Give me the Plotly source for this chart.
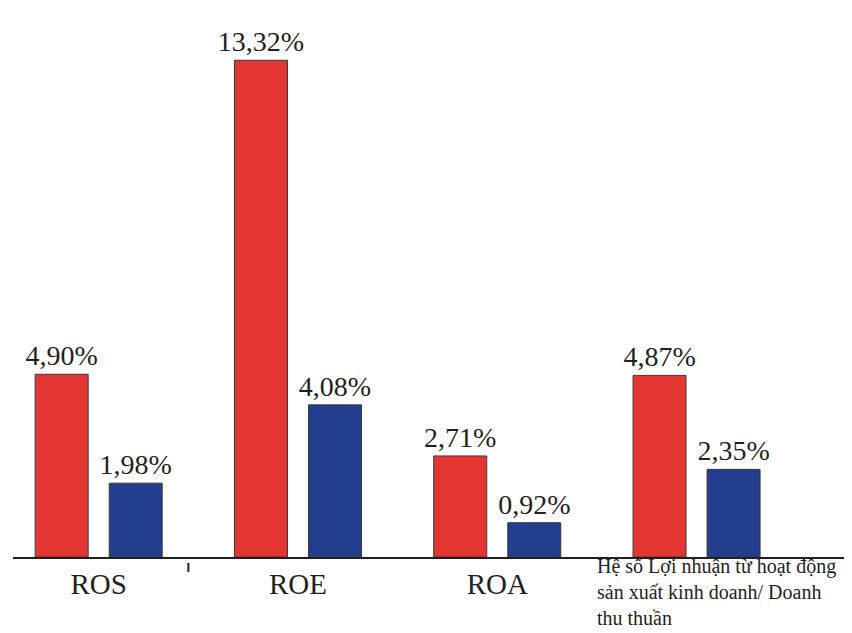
import plotly.graph_objects as go

categories = ["ROS", "ROE", "ROA", "Hệ số Lợi nhuận từ hoạt động<br>sản xuất kinh doanh/ Doanh<br>thu thuần"]
series_a = [4.90, 13.32, 2.71, 4.87]
series_b = [1.98, 4.08, 0.92, 2.35]
labels_a = ["4,90%", "13,32%", "2,71%", "4,87%"]
labels_b = ["1,98%", "4,08%", "0,92%", "2,35%"]

RED = "#E33632"
BLUE = "#233E8F"
FONT = "Liberation Serif, Times New Roman, serif"

xs = list(range(len(categories)))

fig = go.Figure()
for vals, labs, col in [(series_a, labels_a, RED), (series_b, labels_b, BLUE)]:
    fig.add_trace(go.Bar(
        x=xs, y=vals, text=labs, textposition="outside",
        constraintext="none", cliponaxis=False,
        textfont=dict(family=FONT, size=28, color="#231f20"),
        marker=dict(color=col, line=dict(color="#3a3a3a", width=1)),
        showlegend=False, hoverinfo="skip",
    ))

fig.update_layout(
    width=844, height=625,
    margin=dict(l=5, r=2, t=12, b=76),
    paper_bgcolor="white", plot_bgcolor="white",
    barmode="group", bargap=0.257, bargroupgap=0.284,
    xaxis=dict(
        range=[-0.43, 3.77], showgrid=False, zeroline=False,
        showline=True, linecolor="#231f20", linewidth=2,
        tickvals=xs[:3], ticktext=categories[:3],
        tickfont=dict(family=FONT, size=29, color="#231f20"),
        ticks="", ticklen=0, automargin=False,
    ),
    yaxis=dict(range=[0, 14.4], visible=False),
)

# Long fourth category label, left-aligned like the reference
fig.add_annotation(
    x=xs[3], y=0, xref="x", yref="y", xanchor="center", yanchor="top",
    text=categories[3], showarrow=False, align="left", xshift=20, yshift=4,
    font=dict(family=FONT, size=20, color="#231f20"),
)

# small tick mark between first two groups
fig.add_shape(type="line", xref="x", yref="paper", x0=0.45, x1=0.45,
              y0=-0.011, y1=-0.028, line=dict(color="#231f20", width=2))

fig.write_html("out.html")
